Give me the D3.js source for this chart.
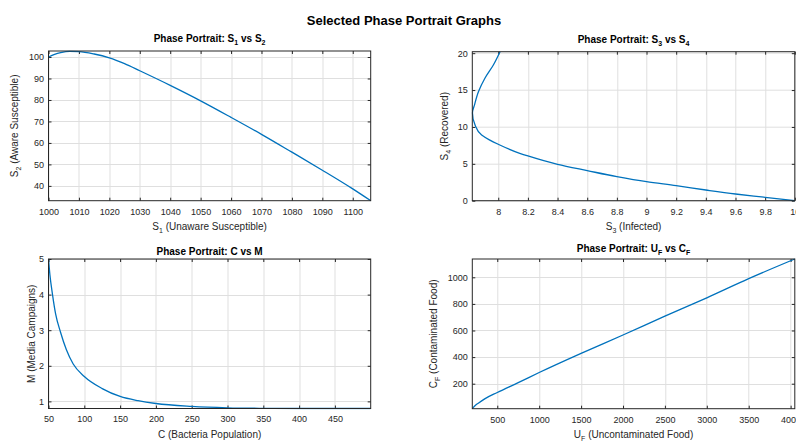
<!DOCTYPE html>
<html lang="en">

<head>
    <meta charset="utf-8">
    <title>Selected Phase Portrait Graphs</title>
    <script type="text/javascript" src="https://cdn.jsdelivr.net/npm/d3@7"></script>
    <style>
        body { margin: 0; background: #fff; }
        svg { font-family: "Liberation Sans", Arial, Helvetica, sans-serif; }
        .tick text { fill: #262626; font-size: 9px; }
        .tick line { stroke: #262626; }
        .grid line { stroke: #dfdfdf; stroke-width: 1; }
        .axis-label { fill: #262626; font-size: 10px; }
        .panel-title { fill: #000; font-size: 10px; font-weight: bold; }
    </style>
</head>

<body>
    <script type="text/javascript">
        var w = 796;
        var h = 441;

        // S1 vs S2 trajectory
        var s1Vals = [1000, 1002, 1004, 1007, 1010, 1015, 1020, 1025, 1030, 1040, 1050, 1060, 1070, 1080, 1090, 1100, 1105.9];
        var s2Vals = [100, 101.2, 102.0, 102.6, 102.5, 101.4, 99.6, 96.9, 93.6, 86.8, 79.6, 71.9, 64.0, 55.7, 47.3, 38.6, 33.1];
        var s1Ticks = [1000, 1010, 1020, 1030, 1040, 1050, 1060, 1070, 1080, 1090, 1100];
        var s2Ticks = [40, 50, 60, 70, 80, 90, 100];

        // S3 vs S4 trajectory
        var s3Vals = [10, 9.8, 9.6, 9.4, 9.2, 9.0, 8.8, 8.6, 8.4, 8.2, 8.145, 8.0, 7.94, 7.888, 7.843, 7.826, 7.84, 7.867, 7.91, 7.967, 8.012];
        var s4Vals = [0, 0.46, 0.91, 1.45, 2.04, 2.58, 3.26, 4.08, 4.93, 6.07, 6.43, 7.65, 8.25, 8.9, 10.3, 11.9, 13.0, 14.8, 16.6, 18.4, 20.2];
        var s3Ticks = [8, 8.2, 8.4, 8.6, 8.8, 9, 9.2, 9.4, 9.6, 9.8, 10];
        var s4Ticks = [0, 5, 10, 15, 20];

        // C vs M trajectory
        var cVals = [50, 52, 55.6, 60, 66.7, 75, 84.5, 100, 125, 150, 175, 200, 250, 300, 350, 400, 500];
        var mVals = [5, 4.55, 4.0, 3.45, 2.95, 2.45, 2.05, 1.70, 1.36, 1.14, 1.02, 0.94, 0.86, 0.82, 0.805, 0.80, 0.80];
        var cTicks = [50, 100, 150, 200, 250, 300, 350, 400, 450];
        var mTicks = [1, 2, 3, 4, 5];

        // UF vs CF trajectory
        var ufVals = [202, 215, 240, 273, 350, 500, 750, 1000, 1500, 2000, 2500, 3000, 3500, 4050];
        var cfVals = [12, 22, 38, 53, 86, 134, 208, 284, 428, 566, 708, 846, 990, 1137.6];
        var ufTicks = [500, 1000, 1500, 2000, 2500, 3000, 3500, 4000];
        var cfTicks = [200, 400, 600, 800, 1000];

        var svg = d3.select("body")
            .append("svg")
            .attr("width", w).attr("height", h);

        // main title
        svg.append("text")
            .attr("x", 404).attr("y", 24.5)
            .attr("text-anchor", "middle")
            .style("font-size", "13px").style("font-weight", "bold").style("fill", "#000")
            .text("Selected Phase Portrait Graphs");

        // writes [text, isSub] parts into a text element, subscripts shifted down
        function richText(sel, parts) {
            var prevSub = false;
            parts.forEach(function (p) {
                var t = sel.append("tspan").text(p[0]);
                if (p[1]) {
                    t.style("font-size", "7px").attr("dy", 3);
                } else if (prevSub) {
                    t.attr("dy", -3);
                }
                prevSub = p[1];
            });
        }

        var panelId = 0;
        function drawPanel(cfg) {
            panelId++;
            var g = svg.append("g").attr("transform", "translate(" + cfg.left + "," + cfg.top + ")");
            var x = d3.scaleLinear().domain(cfg.xDomain).range([0, cfg.width]);
            var y = d3.scaleLinear().domain(cfg.yDomain).range([cfg.height, 0]);

            // grid
            var grid = g.append("g").attr("class", "grid");
            grid.selectAll("line.gx").data(cfg.xTicks).enter().append("line")
                .attr("x1", d => Math.round(x(d)) + 0.5).attr("x2", d => Math.round(x(d)) + 0.5)
                .attr("y1", 0).attr("y2", cfg.height);
            grid.selectAll("line.gy").data(cfg.yTicks).enter().append("line")
                .attr("y1", d => Math.round(y(d)) + 0.5).attr("y2", d => Math.round(y(d)) + 0.5)
                .attr("x1", 0).attr("x2", cfg.width);

            // axes, ticks point inward on all four sides
            g.append("g").attr("transform", "translate(0," + cfg.height + ")")
                .call(d3.axisBottom(x).tickValues(cfg.xTicks).tickFormat(d3.format("")).tickSizeInner(-3).tickSizeOuter(0).tickPadding(7.5));
            g.append("g")
                .call(d3.axisLeft(y).tickValues(cfg.yTicks).tickFormat(d3.format("")).tickSizeInner(-3).tickSizeOuter(0).tickPadding(4.5));
            g.append("g")
                .call(d3.axisTop(x).tickValues(cfg.xTicks).tickFormat("").tickSizeInner(-3).tickSizeOuter(0));
            g.append("g").attr("transform", "translate(" + cfg.width + ",0)")
                .call(d3.axisRight(y).tickValues(cfg.yTicks).tickFormat("").tickSizeInner(-3).tickSizeOuter(0));
            g.selectAll(".domain").remove();
            g.selectAll(".tick text").attr("font-family", null).attr("font-size", null);

            // clip + line
            g.append("clipPath").attr("id", "clip" + panelId)
                .append("rect").attr("x", -1).attr("y", -1).attr("width", cfg.width + 2).attr("height", cfg.height + 2);
            var pts = cfg.xs.map(function (v, i) { return [v, cfg.ys[i]]; });
            g.append("path")
                .attr("clip-path", "url(#clip" + panelId + ")")
                .attr("d", d3.line().x(d => x(d[0])).y(d => y(d[1])).curve(cfg.curve)(pts))
                .style("fill", "none").style("stroke", "#0072BD").style("stroke-width", 1.3);

            // box
            g.append("rect").attr("x", 0).attr("y", 0)
                .attr("width", cfg.width).attr("height", cfg.height)
                .style("fill", "none").style("stroke", "#262626").style("stroke-width", 1);

            // title and labels
            var t = g.append("text").attr("class", "panel-title")
                .attr("x", cfg.width / 2).attr("y", cfg.titleY - cfg.top).attr("text-anchor", "middle");
            richText(t, cfg.title);
            var xl = g.append("text").attr("class", "axis-label")
                .attr("x", cfg.width / 2).attr("y", cfg.height + 29.5).attr("text-anchor", "middle");
            richText(xl, cfg.xLabel);
            var yl = g.append("text").attr("class", "axis-label")
                .attr("transform", "translate(" + (cfg.yLabelX - cfg.left) + "," + cfg.height / 2 + ") rotate(-90)")
                .attr("text-anchor", "middle");
            richText(yl, cfg.yLabel);
        }

        drawPanel({
            left: 48.5, top: 51, width: 322.2, height: 149.7,
            xDomain: [1000, 1105.9], yDomain: [33.1, 102.8],
            xTicks: s1Ticks, yTicks: s2Ticks, xs: s1Vals, ys: s2Vals,
            curve: d3.curveMonotoneX,
            titleY: 42, yLabelX: 18,
            title: [["Phase Portrait: S", false], ["1", true], [" vs S", false], ["2", true]],
            xLabel: [["S", false], ["1", true], [" (Unaware Susceptible)", false]],
            yLabel: [["S", false], ["2", true], [" (Aware Susceptible)", false]]
        });

        drawPanel({
            left: 472.3, top: 51.7, width: 322.5, height: 149,
            xDomain: [7.825, 10], yDomain: [0, 20.2],
            xTicks: s3Ticks, yTicks: s4Ticks, xs: s3Vals, ys: s4Vals,
            curve: d3.curveMonotoneY,
            titleY: 42.5, yLabelX: 447.5,
            title: [["Phase Portrait: S", false], ["3", true], [" vs S", false], ["4", true]],
            xLabel: [["S", false], ["3", true], [" (Infected)", false]],
            yLabel: [["S", false], ["4", true], [" (Recovered)", false]]
        });

        drawPanel({
            left: 48.5, top: 259, width: 322.2, height: 149.5,
            xDomain: [50, 500], yDomain: [0.8, 5],
            xTicks: cTicks, yTicks: mTicks, xs: cVals, ys: mVals,
            curve: d3.curveMonotoneX,
            titleY: 255, yLabelX: 34.5,
            title: [["Phase Portrait: C vs M", false]],
            xLabel: [["C (Bacteria Population)", false]],
            yLabel: [["M (Media Campaigns)", false]]
        });

        drawPanel({
            left: 472.3, top: 259, width: 322.5, height: 149.7,
            xDomain: [202, 4050], yDomain: [12, 1137.6],
            xTicks: ufTicks, yTicks: cfTicks, xs: ufVals, ys: cfVals,
            curve: d3.curveMonotoneX,
            titleY: 251.5, yLabelX: 437,
            title: [["Phase Portrait: U", false], ["F", true], [" vs C", false], ["F", true]],
            xLabel: [["U", false], ["F", true], [" (Uncontaminated Food)", false]],
            yLabel: [["C", false], ["F", true], [" (Contaminated Food)", false]]
        });
    </script>
</body>

</html>
